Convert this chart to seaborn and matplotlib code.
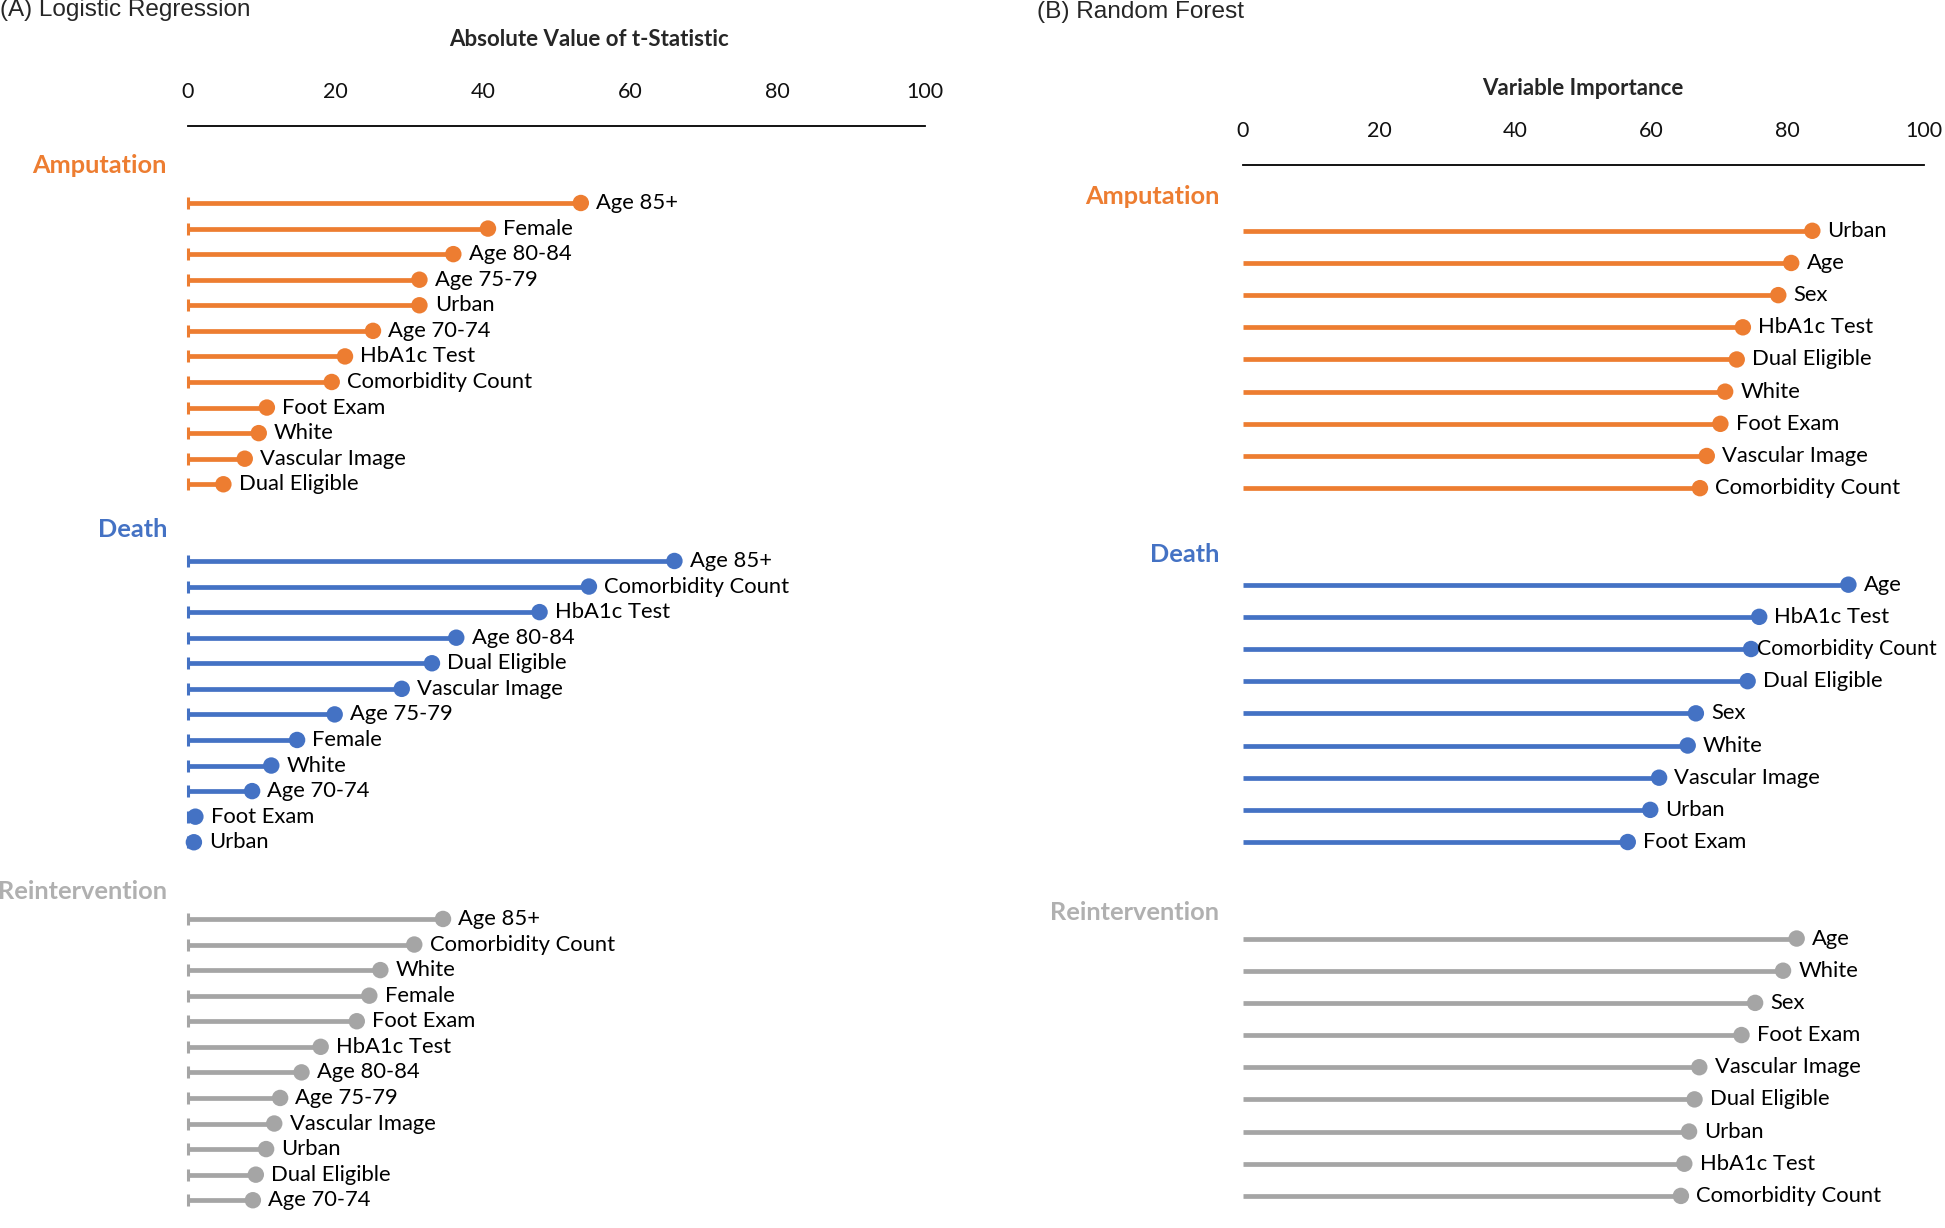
import matplotlib
matplotlib.use("Agg")
import matplotlib.pyplot as plt
import seaborn as sns
import pandas as pd

# ---------------- data ----------------
groups = ["Amputation", "Death", "Reintervention"]

lr_amp_vars = ["Age 85+", "Female", "Age 80-84", "Age 75-79", "Urban", "Age 70-74",
               "HbA1c Test", "Comorbidity Count", "Foot Exam", "White", "Vascular Image", "Dual Eligible"]
lr_amp_vals = [53.3, 40.7, 36.0, 31.4, 31.4, 25.1, 21.3, 19.5, 10.7, 9.6, 7.7, 4.8]

lr_death_vars = ["Age 85+", "Comorbidity Count", "HbA1c Test", "Age 80-84", "Dual Eligible",
                 "Vascular Image", "Age 75-79", "Female", "White", "Age 70-74", "Foot Exam", "Urban"]
lr_death_vals = [66.0, 54.4, 47.7, 36.4, 33.1, 29.0, 19.9, 14.8, 11.3, 8.7, 1.0, 0.8]

lr_reint_vars = ["Age 85+", "Comorbidity Count", "White", "Female", "Foot Exam", "HbA1c Test",
                 "Age 80-84", "Age 75-79", "Vascular Image", "Urban", "Dual Eligible", "Age 70-74"]
lr_reint_vals = [34.6, 30.7, 26.1, 24.6, 22.9, 18.0, 15.4, 12.5, 11.7, 10.6, 9.2, 8.8]

rf_amp_vars = ["Urban", "Age", "Sex", "HbA1c Test", "Dual Eligible", "White", "Foot Exam",
               "Vascular Image", "Comorbidity Count"]
rf_amp_vals = [83.6, 80.5, 78.6, 73.4, 72.5, 70.8, 70.1, 68.1, 67.1]

rf_death_vars = ["Age", "HbA1c Test", "Comorbidity Count", "Dual Eligible", "Sex", "White",
                 "Vascular Image", "Urban", "Foot Exam"]
rf_death_vals = [88.9, 75.8, 74.6, 74.1, 66.5, 65.3, 61.1, 59.8, 56.5]

rf_reint_vars = ["Age", "White", "Sex", "Foot Exam", "Vascular Image", "Dual Eligible", "Urban",
                 "HbA1c Test", "Comorbidity Count"]
rf_reint_vals = [81.3, 79.3, 75.2, 73.2, 67.0, 66.3, 65.5, 64.8, 64.3]

x_ticks = [0, 20, 40, 60, 80, 100]

colors = {"Amputation": "#ED7D31", "Death": "#4472C4", "Reintervention": "#A5A5A5"}
label_colors = {"Amputation": "#ED7D31", "Death": "#4472C4", "Reintervention": "#B0B0B0"}

# ---------------- style ----------------
sns.set_style("white")
plt.rcParams["font.family"] = ["Lato", "DejaVu Sans"]

W, H = 1945, 1228
fig = plt.figure(figsize=(W / 100, H / 100), dpi=100)


def build(var_lists, val_lists, offsets):
    rows = []
    for g, vars_, vals, off in zip(groups, var_lists, val_lists, offsets):
        for i, (v, x) in enumerate(zip(vars_, vals)):
            rows.append({"group": g, "var": v, "value": x, "pos": off + i})
    return pd.DataFrame(rows)


def draw_panel(ax, df, ylim, label_offsets, label_x, start_caps, tight=()):
    for g in groups:
        sub = df[df.group == g]
        ax.hlines(sub.pos, 0, sub.value, color=colors[g], lw=3.4, zorder=2)
        if start_caps:
            sns.scatterplot(data=sub, x=[0] * len(sub), y="pos", ax=ax, marker="|",
                            s=70, linewidth=2.2, color=colors[g], zorder=2, legend=False,
                            clip_on=False)
    sns.scatterplot(data=df, x="value", y="pos", hue="group", palette=colors, s=140,
                    edgecolor="none", ax=ax, legend=False, zorder=3, clip_on=False)
    for _, r in df.iterrows():
        is_tight = (r["group"], r["var"]) in tight
        ax.annotate(r["var"], (r["value"], r["pos"]), xytext=(4 if is_tight else 11, 0),
                    textcoords="offset points", va="center", ha="left",
                    fontsize=15.3 if is_tight else 15.8, color="black")
    for g, gpos in zip(groups, label_offsets):
        ax.text(label_x, gpos, g, ha="right", va="center", fontsize=18.3, fontweight="bold",
                color=label_colors[g], clip_on=False)
    ax.set_xlim(0, 100)
    ax.set_ylim(*ylim)
    ax.set_xticks(x_ticks)
    ax.xaxis.tick_top()
    ax.tick_params(axis="x", length=0, labelsize=15.5, pad=17, labelcolor="#111111")
    ax.set_yticks([])
    ax.set_xlabel("")
    ax.set_ylabel("")
    for s in ["left", "right", "bottom"]:
        ax.spines[s].set_visible(False)
    ax.spines["top"].set_visible(True)
    ax.spines["top"].set_color("black")
    ax.spines["top"].set_linewidth(1.3)


# Left panel: Logistic Regression
row0L, sL = 203.0, 25.57
topL = 125.5
dfL = build([lr_amp_vars, lr_death_vars, lr_reint_vars],
            [lr_amp_vals, lr_death_vals, lr_reint_vals], [0, 14, 28])
axL = fig.add_axes([188 / W, 0, (925 - 188) / W, 1 - topL / H])
draw_panel(axL, dfL, ((H - row0L) / sL, (topL - row0L) / sL),
           [-1.45, 12.75, 26.92], -2.85, True)

# Right panel: Random Forest
row0R, sR = 230.8, 32.17
topR = 165.0
dfR = build([rf_amp_vars, rf_death_vars, rf_reint_vars],
            [rf_amp_vals, rf_death_vals, rf_reint_vals], [0, 11, 22])
axR = fig.add_axes([1243 / W, 0, (1924 - 1243) / W, 1 - topR / H])
draw_panel(axR, dfR, ((H - row0R) / sR, (topR - row0R) / sR),
           [-1.08, 10.06, 21.2], -3.5, False, tight={("Death", "Comorbidity Count")})

# Titles
fig.text(0 / W, 1 - 10 / H, "(A) Logistic Regression", ha="left", va="center", fontsize=17.5,
         family=["Liberation Sans", "DejaVu Sans"])
fig.text(1037 / W, 1 - 12 / H, "(B) Random Forest", ha="left", va="center", fontsize=17.6,
         family=["Liberation Sans", "DejaVu Sans"])
fig.text(589 / W, 1 - 39 / H, "Absolute Value of t-Statistic", ha="center", va="center",
         fontsize=16, fontweight="bold")
fig.text(1583 / W, 1 - 88.5 / H, "Variable Importance", ha="center", va="center",
         fontsize=16, fontweight="bold")

fig.savefig("out.png", dpi=100, facecolor="white")
